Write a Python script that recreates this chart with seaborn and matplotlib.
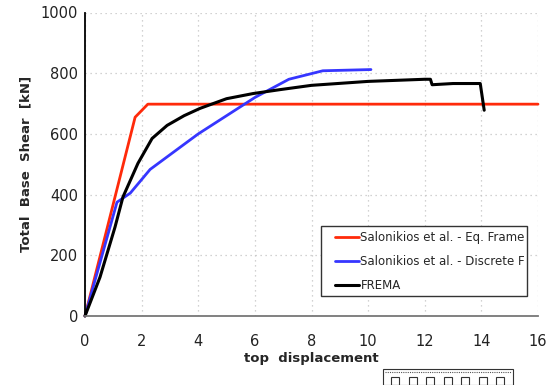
import numpy as np
import pandas as pd
import matplotlib
matplotlib.use("Agg")
import matplotlib.pyplot as plt
import seaborn as sns
from matplotlib.patches import Rectangle

# Data
eq_x = [0, 1.77, 2.22, 16.0]
eq_y = [0, 655, 698, 698]

disc_x = [0, 1.13, 1.6, 2.3, 3.2, 4.0, 5.0, 6.0, 7.2, 8.4, 10.1]
disc_y = [0, 375, 405, 483, 545, 600, 660, 720, 780, 808, 812]

frema_x = [0, 0.53, 1.06, 1.34, 1.87, 2.37, 2.9, 3.5, 4.06, 5.0, 5.94, 6.9, 8.0, 10.0, 12.0, 12.2, 12.26, 13.0, 13.96, 14.1]
frema_y = [0, 128, 293, 392, 503, 585, 628, 660, 684, 716, 733, 746, 760, 773, 780, 780, 762, 766, 766, 678]

labels = ["Salonikios et al. - Eq. Frame", "Salonikios et al. - Discrete F", "FREMA"]
colors = ["#ff2a0a", "#3636ff", "#000000"]

xticks = [0, 2, 4, 6, 8, 10, 12, 14, 16]
yticks = [0, 200, 400, 600, 800, 1000]

sns.set_style("white")
plt.rcParams['font.family'] = ['DejaVu Sans']

fig = plt.figure(figsize=(5.59, 3.85), dpi=100)
ax = fig.add_axes([85/559, 1 - 316/385, (538 - 85)/559, (316 - 12.5)/385])

frames = []
for xs, ys, lab in zip([eq_x, disc_x, frema_x], [eq_y, disc_y, frema_y], labels):
    frames.append(pd.DataFrame({"x": xs, "y": ys, "series": lab}))
df = pd.concat(frames, ignore_index=True)

for lab, col in zip(labels, colors):
    sub = df[df.series == lab]
    sns.lineplot(data=sub, x="x", y="y", ax=ax, color=col, lw=2.2 if lab == "FREMA" else 2.0,
                 label=lab, sort=False, estimator=None, clip_on=False)

ax.set_xlim(0, 16)
ax.set_ylim(0, 1000)
ax.set_xticks(xticks)
ax.set_yticks(yticks)
ax.grid(True, color="#c4c4c4", linestyle=(0, (1, 3)), linewidth=0.9)
for s in ["top", "right"]:
    ax.spines[s].set_visible(False)
ax.spines["left"].set_color("black")
ax.spines["left"].set_linewidth(1.3)
ax.spines["bottom"].set_color("#777777")
ax.spines["bottom"].set_linewidth(1.3)
ax.tick_params(axis="x", colors="#777777", labelcolor="#222222", direction="out", length=4, width=1.2, labelsize=10.5, pad=9)
ax.tick_params(axis="y", colors="#777777", labelcolor="#222222", direction="out", length=4, width=1.2, labelsize=10.5, pad=1)
ax.set_xlabel("top  displacement", fontsize=9.5, fontweight="bold", labelpad=2)
ax.set_ylabel("Total  Base  Shear  [kN]", fontsize=9.5, fontweight="bold", labelpad=6)

# legend frame drawn separately
W, H = 453.0, 303.5
ax.add_patch(Rectangle(((321 - 85)/W, (316 - 296)/H), (527 - 321)/W, (296 - 226)/H,
                       transform=ax.transAxes, fill=True, facecolor="white",
                       edgecolor="#333333", lw=1.0, zorder=5))
leg = ax.legend(loc="upper left", bbox_to_anchor=((335 - 85)/W, (316 - 231.5)/H),
                frameon=False, fontsize=8.5, handlelength=2.0,
                handletextpad=0.15, borderpad=0, labelspacing=0.9, borderaxespad=0)
leg.set_zorder(6)

# small decoration box at bottom
fig.patches.append(Rectangle((383/559, 0), (513 - 383)/559, (385 - 369)/385, transform=fig.transFigure,
                             fill=False, edgecolor="#333333", lw=0.8))
fig.lines.append(plt.Line2D([385/559, 511/559], [1 - 372/385, 1 - 372/385], transform=fig.transFigure,
                            color="#555555", lw=0.8, linestyle=(0, (1, 1))))
for i in range(7):
    x0 = (391 + i * 17.5) / 559
    fig.patches.append(Rectangle((x0, 0), 8/559, 8/385, transform=fig.transFigure,
                                 fill=False, edgecolor="#333333", lw=0.8))

fig.savefig("out.png", dpi=100)
